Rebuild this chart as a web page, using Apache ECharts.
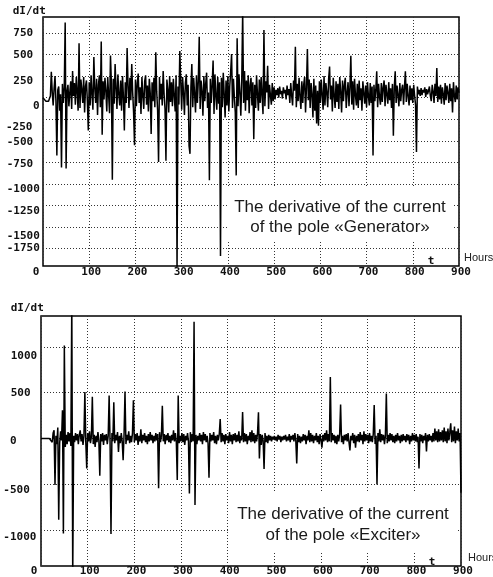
<!DOCTYPE html>
<html>
<head>
<meta charset="utf-8">
<script src="https://cdn.jsdelivr.net/npm/echarts@6/dist/echarts.min.js"></script>
<style>
  html, body { margin: 0; padding: 0; background: #fff; }
  #c { width: 493px; height: 577px; }
</style>
</head>
<body>
<div id="c"></div>
<script>
// Sampling interval of both records, hours
const SAMPLE_STEP_H = 2;

// dI/dt of the pole "Generator", one value per sample (0 ... 900 h), rows of 20 h
const generatorDIdt = [
  0, 0, -15, -40, -55, -60, -40, -10, 20, 300,
  60, -90, 110, 250, -40, -670, 90, 130, -150, 40,
  -810, 160, -60, 120, 870, -820, 80, 150, -100, 60,
  190, -130, 310, 20, 170, -80, 240, 60, -150, 630,
  -120, 210, 90, -60, 240, -170, 130, 200, -40, -380,
  180, -90, 260, 40, -140, 470, 110, -60, 220, -200,
  150, 260, -110, 650, -430, 190, -20, 230, 80, -160,
  240, 30, -180, 490, 160, -950, 220, -70, 390, 110,
  -130, 270, 40, -90, 200, -150, 250, 10, -380, 180,
  -60, 575, 140, -120, 230, -30, 390, 60, -170, -550,
  210, -100, 170, 280, -60, 120, -190, 240, 30, -130,
  190, 260, -80, 140, -160, 220, 50, -420, 180, -40,
  230, -110, 525, 70, -150, -745, 240, -20, 160, -90,
  310, 40, -130, -730, 210, 90, -170, 250, -50, 180,
  -100, 220, 20, -160, 260, -2000, 130, -80, 540, 190,
  -140, 240, 60, -200, 170, 270, -90, 150, -560, -650,
  120, 390, -110, 230, 40, -170, 260, -60, 190, 705,
  -130, 200, 70, -210, 250, -40, 160, 290, -120, 60,
  -955, 220, -60, 150, 430, -190, 270, 20, -140, 240,
  -70, 180, -1835, 230, -110, 290, 40, -230, 200, -90,
  250, -160, 130, 300, 505, -120, 220, 10, -170, -900,
  690, -100, 270, 60, -210, 190, 1000, -60, 310, -150,
  200, -30, 260, -180, 140, 230, -90, 180, -480, 150,
  -120, 260, 40, -150, 210, -60, 240, 20, -190, 785,
  -100, 190, 60, 370, -130, 150, 30, -80, 170, -40,
  120, -20, 90, 30, 110, 0, 130, 40, 80, -10,
  120, 50, 90, -20, 140, 30, 100, -60, 170, 20,
  -90, 200, 80, 590, -110, 160, -40, 230, 10, -130,
  190, -60, 150, 240, -170, 120, 565, -30, 210, -120,
  170, 40, -230, 220, -150, 140, -300, 80, -325, 190,
  -60, 210, 30, -140, 250, -90, 170, 60, -110, 220,
  360, -20, 140, -160, 230, 20, -120, 190, -50, 160,
  -130, 240, 70, -170, 200, -40, 150, 230, -120, 60,
  180, -100, 120, 485, -80, 190, -140, 220, 30, -90,
  160, -120, 200, -30, 110, -150, 190, 50, -70, 140,
  -110, 180, 20, -90, 170, -60, 130, -670, 150, -40,
  90, 305, -110, 160, 10, -80, 170, -50, 120, 200,
  -100, 150, 40, -70, 180, -30, 110, -120, 160, -440,
  120, 305, -60, 140, 30, -100, 170, -40, 90, 150,
  -80, 120, 305, -50, 160, 20, -90, 140, -30, 110,
  -60, 150, 20, -80, -630, 130, 40, 90, 20, 110,
  30, 90, 60, 120, 10, 100, 40, 80, 130, 20,
  -40, 150, 70, -60, 160, 20, 345, -50, 130, -20,
  150, -70, 120, 40, -80, 170, -30, 140, 60, -60,
  160, -40, 110, -170, 180, 20, -50, 140, -20, 120,
  60
];

// dI/dt of the pole "Exciter", one value per sample (0 ... 900 h), rows of 20 h
const exciterDIdt = [
  0, 0, 0, 0, 0, 0, 0, 0, 0, 0,
  0, 20, -40, 60, 90, -505, 30, -60, 120, -885,
  -50, 80, -20, 310, -1035, 1015, -90, 40, -60, 70,
  -30, 60, -80, 1500, -1500, 30, -40, 60, -20, 50,
  -60, 40, 90, -30, 50, -70, 30, 508, -40, -325,
  60, -30, 80, -50, 20, 455, -60, 40, -90, 30,
  -40, 70, -20, -405, 50, -30, 60, -70, 40, -20,
  50, -60, 30, 470, -40, -1040, 60, -30, 395, -50,
  40, -20, 70, -145, 30, -50, 60, -30, -235, 50,
  513, -60, 40, -20, 80, -50, 30, -40, 60, 418,
  -40, 50, -20, 60, -70, 30, -30, 100, -50, 40,
  -20, 60, -40, 30, -60, 50, -30, 70, -20, 40,
  -50, 30, -30, 60, -20, 50, -543, 70, -40, 30,
  357, -30, 50, -60, 40, -20, 60, -40, 30, -50,
  40, -20, 90, -30, 60, -40, -452, 471, -50, 30,
  -30, 60, -40, 50, -70, 30, -20, 60, -30, -598,
  70, -40, 50, -30, 1275, -724, 40, -60, 30, -20,
  60, -30, 40, -60, 70, -20, 50, -40, 30, -50,
  -427, 60, -30, 40, -20, 70, -50, 30, -60, 40,
  -20, 50, 214, -40, 60, -30, 40, -60, 50, -20,
  30, -50, 70, -30, 40, -60, 50, -20, 60, -40,
  40, -30, 80, -50, 30, -20, 290, -40, 60, -30,
  50, -60, 30, -20, 70, -40, 90, -30, 60, -50,
  40, -30, 60, 288, -217, 50, -70, 40, -20, -333,
  60, -40, 30, -50, 40, -20, 30, -30, 20, -10,
  30, -20, 20, -30, 40, -10, 30, -40, 20, -20,
  30, -10, 40, -30, 20, -20, 50, -40, 30, -10,
  40, -30, 60, -20, -272, 50, -40, 30, -50, 20,
  -30, 50, -20, 40, -60, 30, -20, 90, -40, 60,
  -30, 40, -50, 30, -20, 60, -40, 30, -60, 50,
  -20, -100, 40, -30, 60, -20, 90, -40, 50, -30,
  672, -40, 60, -20, 40, -50, 30, -60, 40, -30,
  50, 372, -40, 30, -60, 40, -20, 50, -30, 60,
  -40, -130, 30, -20, 60, -50, 40, -100, 30, -30,
  50, -40, 70, -20, 40, -60, 80, -30, 50, -20,
  40, -50, 60, -30, 30, -40, 50, 365, -60, 30,
  -500, 60, -30, 100, -40, 50, -20, 40, -60, 30,
  491, -50, 40, -30, 60, -20, 50, -40, 30, -50,
  40, -30, 60, -20, 30, -50, 40, -30, 50, -20,
  30, -40, 50, -20, 40, -60, 30, -30, 60, -20,
  40, -30, 50, -40, 20, -326, 50, -30, 40, -50,
  30, -20, 60, -140, 40, -30, 50, -20, 30, -40,
  60, -30, 110, -20, 80, -40, 100, -30, 70, -20,
  90, -40, 120, -30, 80, -50, 110, -20, 70, 167,
  -40, 90, -30, 130, -50, 80, -20, 110, -30, 60,
  -590
];

// Axis ticks
const hourTicks = [0, 100, 200, 300, 400, 500, 600, 700, 800, 900];
const generatorYTicks = [750, 500, 250, 0, -250, -500, -750, -1000, -1250, -1500, -1750];
const exciterYTicks = [1000, 500, 0, -500, -1000];
const generatorYRange = [-1950, 935];
const exciterYRange = [-1390, 1337];

// Texts
const yName = 'dI/dt';
const xName = 't';
const xUnit = 'Hours';
const generatorNote = 'The derivative of the current\nof the pole «Generator»';
const exciterNote = 'The derivative of the current\nof the pole «Exciter»';

// ---- layout / styling ----
const MONO = '"DejaVu Sans Mono", "Liberation Mono", monospace';
const SANS = '"Liberation Sans", Arial, sans-serif';
const INK = '#111';

// panel frames (px)
const panels = [
  { left: 43, top: 17, width: 416, height: 249 },
  { left: 41, top: 316, width: 420, height: 251 }
];

// tick-label placement quirks of the old plotter: [x where the text starts, vertical shift]
const generatorLabelPlace = {
  '750': [13.3, 0], '500': [13.3, 1], '250': [13.3, 5], '0': [33, 8],
  '-250': [6, 8], '-500': [6.7, 1], '-750': [6.7, 2], '-1000': [6.7, 5],
  '-1250': [6.7, 6], '-1500': [6.7, 9], '-1750': [6.7, -1]
};
const exciterLabelPlace = {
  '1000': [10.7, 9], '500': [10.7, 0], '0': [10, 3], '-500': [3.3, 6], '-1000': [3.3, 7]
};

const labelFont = { fontFamily: MONO, fontWeight: 'bold', fontSize: 11, color: INK };
const gridDots = { show: true, lineStyle: { color: '#333', width: 1, type: [1, 2] } };

function toPairs(values) {
  return values.map((v, i) => [i * SAMPLE_STEP_H, v]);
}

function yAxisFor(gridIndex, range, ticks, place) {
  const axisX = panels[gridIndex].left;
  const starts = ticks.map(t => place[String(t)][0]);
  const baseX = Math.min.apply(null, starts);
  const rich = {};
  ticks.forEach((t, k) => {
    const p = place[String(t)];
    const dy = p[1];
    rich['r' + k] = Object.assign({}, labelFont, {
      padding: [dy > 0 ? 2 * dy : 0, 0, dy < 0 ? -2 * dy : 0, p[0] - baseX]
    });
  });
  return {
    type: 'value', gridIndex: gridIndex, min: range[0], max: range[1],
    axisLine: { show: false },
    axisTick: { show: false, customValues: ticks },
    axisLabel: {
      customValues: ticks, align: 'left', margin: axisX - baseX,
      formatter: function (v) { return '{r' + ticks.indexOf(v) + '|' + v + '}'; },
      rich: rich
    },
    splitLine: gridDots
  };
}

function xAxisFor(gridIndex, margin) {
  return {
    type: 'value', gridIndex: gridIndex, min: 0, max: 900,
    axisLine: { show: false },
    axisTick: { show: false, customValues: hourTicks },
    axisLabel: {
      customValues: hourTicks, margin: margin,
      formatter: function (v) { return v === 0 ? '{z|0}' : '{n|' + v + '}'; },
      rich: {
        z: Object.assign({}, labelFont, { padding: [0, 14, 0, 0] }),
        n: Object.assign({}, labelFont, { padding: [0, 0, 0, 4] })
      }
    },
    splitLine: gridDots
  };
}

function lineSeries(i, values) {
  return {
    type: 'line', xAxisIndex: i, yAxisIndex: i,
    data: toPairs(values),
    showSymbol: false, symbol: 'none', clip: true, sampling: 'none',
    lineStyle: { color: '#000', width: 1.5 },
    animation: false, silent: true
  };
}

function note(text, box, cx, cy, lh) {
  return [
    { type: 'rect', z: 100, shape: box, style: { fill: '#fff' } },
    { type: 'text', z: 101, x: cx, y: cy,
      style: { text: text, font: '17px ' + SANS, fill: '#1a1a1a',
               textAlign: 'center', textVerticalAlign: 'middle', lineHeight: lh } }
  ];
}

function monoText(text, x, y, align) {
  return { type: 'text', z: 101, x: x, y: y,
    style: { text: text, font: 'bold 11px ' + MONO, fill: INK,
             textAlign: align || 'left', textVerticalAlign: 'middle' } };
}
function sansText(text, x, y) {
  return { type: 'text', z: 101, x: x, y: y,
    style: { text: text, font: '11px ' + SANS, fill: '#222',
             textAlign: 'left', textVerticalAlign: 'middle' } };
}

const chart = echarts.init(document.getElementById('c'), null, { renderer: 'canvas' });
chart.setOption({
  animation: false,
  backgroundColor: '#fff',
  grid: panels.map(p => Object.assign({ show: true, borderColor: '#000', borderWidth: 1.5,
                                        backgroundColor: 'transparent', containLabel: false }, p)),
  xAxis: [xAxisFor(0, 1), xAxisFor(1, 0)],
  yAxis: [
    yAxisFor(0, generatorYRange, generatorYTicks, generatorLabelPlace),
    yAxisFor(1, exciterYRange, exciterYTicks, exciterLabelPlace)
  ],
  series: [lineSeries(0, generatorDIdt), lineSeries(1, exciterDIdt)],
  graphic: [].concat(
    note(generatorNote, { x: 228, y: 187, width: 225, height: 55 }, 340, 217, 20),
    note(exciterNote, { x: 230, y: 492, width: 226, height: 60 }, 343, 524.5, 21),
    [
      monoText(yName, 12.7, 10.7),
      monoText(yName, 10.7, 308.3),
      monoText(xName, 431, 261, 'center'),
      monoText(xName, 432, 562, 'center'),
      sansText(xUnit, 464, 258),
      sansText(xUnit, 468, 557.7)
    ]
  )
});
</script>
</body>
</html>
